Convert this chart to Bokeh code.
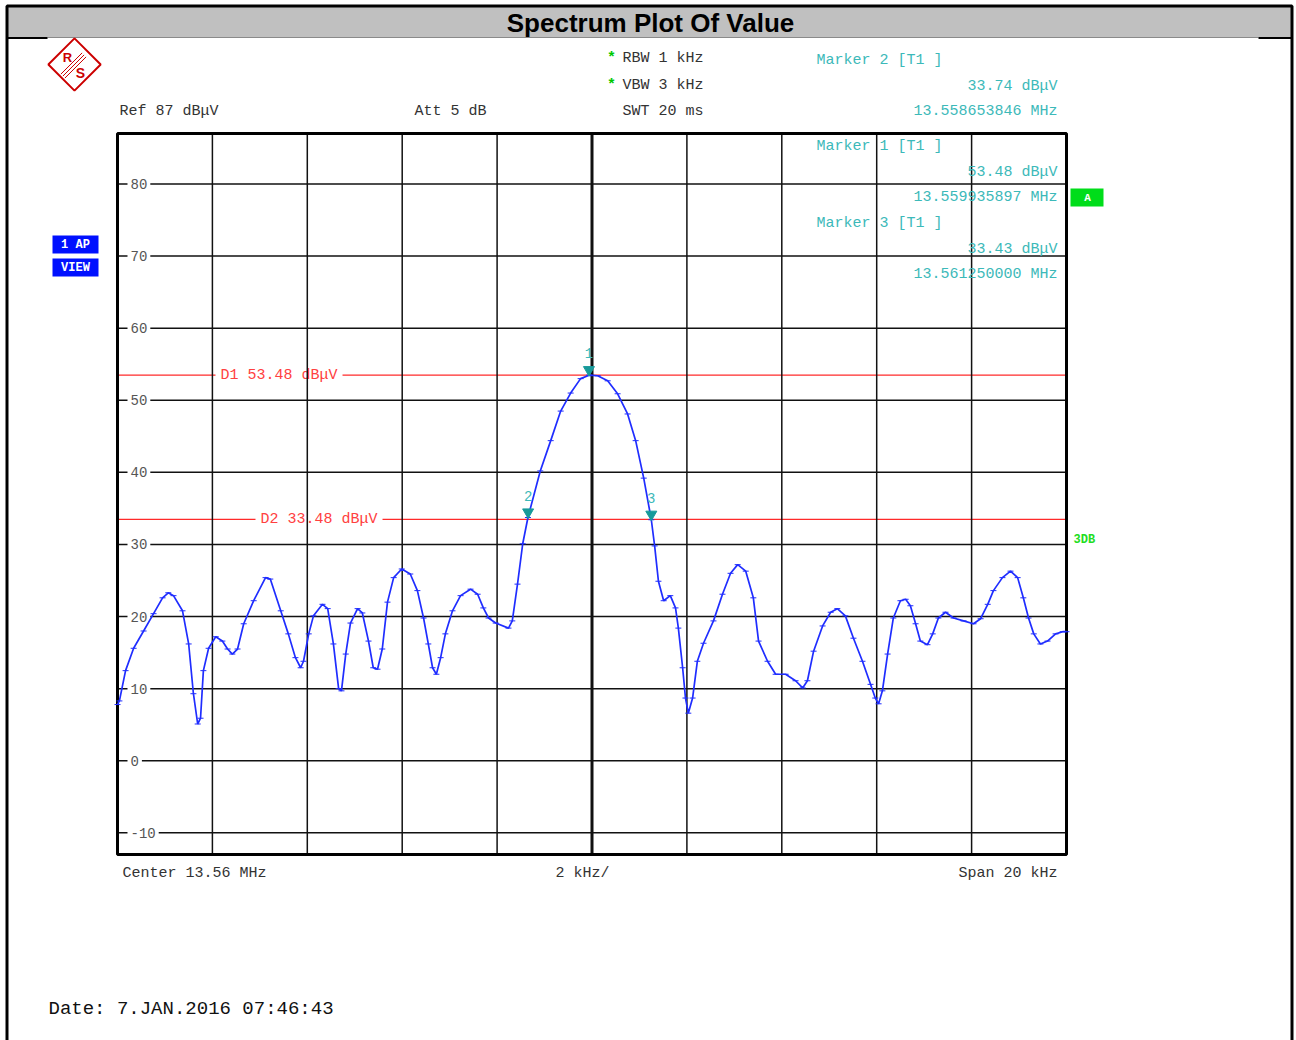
import math
from bokeh.plotting import figure
from bokeh.models import Range1d, ColumnDataSource, Label, LabelSet
from bokeh.embed import file_html
from bokeh.resources import INLINE
from bokeh.core.properties import value

# ---------------- data ----------------
center_mhz = 13.56
span_khz = 20
ref_level_dbuv = 87
range_db = 100

freq_khz = [-10.00, -9.96, -9.83, -9.66, -9.45, -9.24, -9.05, -8.93, -8.82, -8.63,
            -8.50, -8.40, -8.31, -8.25, -8.19, -8.08, -7.93, -7.79, -7.68, -7.58,
            -7.47, -7.34, -7.13, -6.88, -6.78, -6.56, -6.40, -6.25, -6.14, -6.08,
            -5.97, -5.87, -5.68, -5.57, -5.45, -5.34, -5.28, -5.19, -5.09, -4.94,
            -4.84, -4.71, -4.61, -4.52, -4.42, -4.31, -4.18, -4.01, -3.83, -3.68,
            -3.55, -3.45, -3.36, -3.28, -3.19, -3.09, -2.94, -2.77, -2.56, -2.41,
            -2.29, -2.18, -2.03, -1.76, -1.68, -1.57, -1.46, -1.35, -1.09, -0.87,
            -0.66, -0.45, -0.24, -0.06, 0.12, 0.33, 0.54, 0.75, 0.92, 1.09,
            1.25, 1.32, 1.40, 1.51, 1.65, 1.76, 1.82, 1.91, 1.97, 2.03,
            2.12, 2.22, 2.35, 2.56, 2.75, 2.92, 3.07, 3.24, 3.40, 3.51,
            3.70, 3.87, 4.08, 4.29, 4.44, 4.54, 4.67, 4.86, 5.03, 5.17,
            5.34, 5.51, 5.70, 5.87, 5.97, 6.04, 6.12, 6.23, 6.35, 6.50,
            6.61, 6.71, 6.82, 6.92, 7.07, 7.18, 7.30, 7.45, 7.62, 7.83,
            8.04, 8.19, 8.34, 8.46, 8.65, 8.82, 8.97, 9.09, 9.20, 9.31,
            9.45, 9.60, 9.77, 9.92, 10.00]
level_dbuv = [7.8, 8.3, 12.5, 15.6, 18.0, 20.4, 22.6, 23.3, 22.9, 20.8,
              16.2, 9.3, 5.1, 5.9, 12.5, 15.6, 17.2, 16.6, 15.5, 14.8,
              15.5, 19.0, 22.2, 25.4, 25.2, 20.8, 17.6, 14.3, 12.9, 13.8,
              17.6, 20.1, 21.7, 21.1, 16.2, 10.0, 9.7, 14.8, 19.1, 21.1,
              20.5, 16.6, 12.9, 12.7, 15.5, 22.0, 25.4, 26.6, 25.9, 23.6,
              19.8, 16.2, 12.9, 12.0, 14.3, 17.6, 20.8, 22.9, 23.8, 23.1,
              21.2, 19.8, 19.1, 18.4, 19.4, 24.5, 30.1, 33.74, 40.2, 44.4,
              48.5, 51.0, 53.0, 53.48, 53.4, 52.7, 50.9, 48.1, 44.4, 39.2,
              33.43, 29.8, 24.9, 22.2, 22.9, 21.2, 18.4, 12.9, 8.7, 6.6,
              8.7, 13.8, 16.3, 19.4, 23.1, 26.0, 27.2, 26.3, 22.6, 16.6,
              13.8, 12.0, 12.0, 11.1, 10.1, 11.1, 15.2, 18.7, 20.6, 21.1,
              20.1, 17.0, 13.8, 10.6, 8.7, 7.9, 9.7, 14.8, 19.8, 22.2,
              22.4, 21.5, 19.0, 16.6, 16.1, 17.6, 19.8, 20.6, 19.8, 19.4,
              19.0, 19.7, 21.7, 23.6, 25.4, 26.3, 25.4, 22.6, 19.8, 17.6,
              16.2, 16.6, 17.6, 17.9, 17.9]

x_ticks_khz = [-8, -6, -4, -2, 0, 2, 4, 6, 8]
y_ticks_dbuv = [80, 70, 60, 50, 40, 30, 20, 10, 0, -10]
y_tick_labels = ["80", "70", "60", "50", "40", "30", "20", "10", "0", "-10"]

marker_ids = ["1", "2", "3"]
marker_freq_mhz = [13.559935897, 13.558653846, 13.561250000]
marker_level_dbuv = [53.48, 33.74, 33.43]
marker_list_order = [1, 0, 2]

display_line_names = ["D1", "D2"]
display_line_levels = [53.48, 33.48]

# ---------------- layout helpers ----------------
W, H = 1296, 1040
PX_PER_KHZ = 47.45
PX_PER_DB = 7.21
AREA_LEFT_PX = 117   # canvas px of the left edge of the grid area
AREA_TOP_PX = 133    # canvas px of the top edge of the grid area
f_lo, f_hi = -span_khz / 2, span_khz / 2
db_top, db_bot = ref_level_dbuv, ref_level_dbuv - range_db

x_start = f_lo - AREA_LEFT_PX / PX_PER_KHZ
x_end = x_start + W / PX_PER_KHZ
y_top = db_top + AREA_TOP_PX / PX_PER_DB
y_bottom = y_top - H / PX_PER_DB


def X(px):
    return x_start + px / PX_PER_KHZ


def Y(py):
    return y_top - py / PX_PER_DB


MONO = "Liberation Mono"
TEAL = "#3cb9b9"
GREY_TXT = "#333333"

p = figure(width=W, height=H, x_range=Range1d(x_start, x_end),
           y_range=Range1d(y_bottom, y_top), min_border=0,
           toolbar_location=None, output_backend="svg",
           x_axis_location=None, y_axis_location=None)
p.grid.visible = False
p.background_fill_color = "white"
p.border_fill_color = "white"
p.outline_line_color = None

# title bar and outer frame
p.quad(left=[X(7)], right=[X(1291)], top=[Y(6)], bottom=[Y(37)],
       fill_color="#c0c0c0", line_color=None)
p.segment(x0=[X(47)], x1=[X(1258)], y0=[Y(37)], y1=[Y(37)],
          line_color="#8a8a8a", line_width=1)
p.segment(x0=[X(7), X(1258)], x1=[X(47), X(1292)], y0=[Y(37.5)] * 2,
          y1=[Y(37.5)] * 2, line_color="black", line_width=2)
p.quad(left=[X(6.5)], right=[X(1291.5)], top=[Y(5.5)], bottom=[Y(1060)],
       fill_color=None, line_color="black", line_width=3)
p.add_layout(Label(x=X(650), y=Y(22), text="Spectrum Plot Of Value",
                   text_align="center", text_baseline="middle",
                   text_font="Liberation Sans", text_font_style="bold",
                   text_font_size="26px", text_color="black"))

# R&S logo
lx, ly = X(74), Y(64)
p.scatter(x=[lx], y=[ly], marker="square", size=37, angle=math.pi / 4,
          fill_color=None, line_color="#cc0000", line_width=2)
p.scatter(x=[X(71), X(73), X(75)], y=[Y(63), Y(65), Y(67)], marker="dash",
          size=30, angle=math.pi / 4, line_color="#cc0000", line_width=1)
p.add_layout(Label(x=X(67), y=Y(57), text="R", text_align="center",
                   text_baseline="middle", text_font="Liberation Sans",
                   text_font_style="bold", text_font_size="13px",
                   text_color="#cc0000"))
p.add_layout(Label(x=X(80), y=Y(72), text="S", text_align="center",
                   text_baseline="middle", text_font="Liberation Sans",
                   text_font_style="bold", text_font_size="14px",
                   text_color="#cc0000"))

# display lines (D1 / D2)
n_d = len(display_line_levels)
p.segment(x0=[f_lo] * n_d, x1=[f_hi] * n_d, y0=display_line_levels,
          y1=display_line_levels, line_color="#ff2a2a", line_width=1.2)
d_text = [f"{n} {v:.2f} dBμV" for n, v in zip(display_line_names, display_line_levels)]
d_x = [X(215), X(255)]
p.text(x=d_x, y=display_line_levels, text=d_text, text_font=value(MONO),
       text_font_size="15px", text_color="#ff4040", text_align="left",
       text_baseline="middle", background_fill_color="white", padding=5)

# grid
vx = [t for t in x_ticks_khz if t != 0]
p.segment(x0=vx, x1=vx, y0=[db_bot] * len(vx), y1=[db_top] * len(vx),
          line_color="#111111", line_width=1.5)
p.segment(x0=[0], x1=[0], y0=[db_bot], y1=[db_top], line_color="#111111",
          line_width=3)
ny = len(y_ticks_dbuv)
p.segment(x0=[f_lo] * ny, x1=[f_hi] * ny, y0=y_ticks_dbuv, y1=y_ticks_dbuv,
          line_color="#111111", line_width=1.5)
p.text(x=[X(127)] * ny, y=y_ticks_dbuv, text=y_tick_labels,
       text_font=value(MONO), text_font_size="14px", text_color="#555555",
       text_align="left", text_baseline="middle",
       background_fill_color="white", padding=3)

# plot box
p.quad(left=[f_lo], right=[f_hi], top=[db_top], bottom=[db_bot],
       fill_color=None, line_color="black", line_width=3)

# trace
p.line(freq_khz, level_dbuv, line_color="#1f2dff", line_width=1.7)
p.scatter(freq_khz, level_dbuv, marker="dash", size=6, line_color="#1f2dff",
          line_width=1)

# markers
marker_khz = [(f - center_mhz) * 1000 for f in marker_freq_mhz]
msrc = ColumnDataSource(dict(x=marker_khz, y=marker_level_dbuv,
                             ytri=[v + 0.75 for v in marker_level_dbuv],
                             id=marker_ids))
p.scatter("x", "ytri", source=msrc, marker="inverted_triangle", size=11,
          fill_color="#179a9a", line_color="#179a9a")
p.add_layout(LabelSet(x="x", y="y", text="id", source=msrc, y_offset=22,
                      text_align="center", text_baseline="middle",
                      text_font=value(MONO), text_font_size="14px",
                      text_color=TEAL))

# marker info block (upper right)
row_y = [60, 146, 223]
for k, idx in enumerate(marker_list_order):
    y0 = row_y[k]
    p.add_layout(Label(x=X(816), y=Y(y0), text=f"Marker {marker_ids[idx]} [T1 ]",
                       text_align="left", text_baseline="middle", text_font=MONO,
                       text_font_size="15px", text_color=TEAL))
    p.add_layout(Label(x=X(1057), y=Y(y0 + 25.5),
                       text=f"{marker_level_dbuv[idx]:.2f} dBμV",
                       text_align="right", text_baseline="middle", text_font=MONO,
                       text_font_size="15px", text_color=TEAL))
    p.add_layout(Label(x=X(1057), y=Y(y0 + 51),
                       text=f"{marker_freq_mhz[idx]:.9f} MHz",
                       text_align="right", text_baseline="middle", text_font=MONO,
                       text_font_size="15px", text_color=TEAL))


def lab(text, px, py, align="left", color=GREY_TXT, size=15, font=MONO,
        style="normal"):
    p.add_layout(Label(x=X(px), y=Y(py), text=text, text_align=align,
                       text_baseline="middle", text_color=color,
                       text_font_size=f"{size}px", text_font=font,
                       text_font_style=style))


# instrument settings
lab(f"Ref {ref_level_dbuv} dBμV", 119, 111)
lab("Att 5 dB", 414, 111)
lab("SWT 20 ms", 622, 111)
lab("RBW 1 kHz", 622, 58)
lab("VBW 3 kHz", 622, 85)
lab("*", 611, 58, align="center", color="#00c800", style="bold")
lab("*", 611, 85, align="center", color="#00c800", style="bold")
lab(f"Center {center_mhz:.2f} MHz", 122, 873)
lab(f"{span_khz // 10} kHz/", 555, 873)
lab(f"Span {span_khz} kHz", 1057, 873, align="right")
lab("Date: 7.JAN.2016 07:46:43", 48, 1008, color="#111111", size=19)

# side badges
p.quad(left=[X(52), X(52)], right=[X(98), X(98)], top=[Y(235), Y(258)],
       bottom=[Y(253), Y(276)], fill_color="#0010ff", line_color=None)
lab("1 AP", 75, 244.5, align="center", color="white", size=12, style="bold")
lab("VIEW", 75, 267.5, align="center", color="white", size=12, style="bold")
p.quad(left=[X(1070)], right=[X(1103)], top=[Y(188)], bottom=[Y(206)],
       fill_color="#00dd1a", line_color=None)
lab("A", 1087, 197.5, align="center", color="white", size=11, style="bold")
lab("3DB", 1073, 539, color="#22dd22", size=12, style="bold")

open("out.html", "w").write(file_html(p, INLINE))
